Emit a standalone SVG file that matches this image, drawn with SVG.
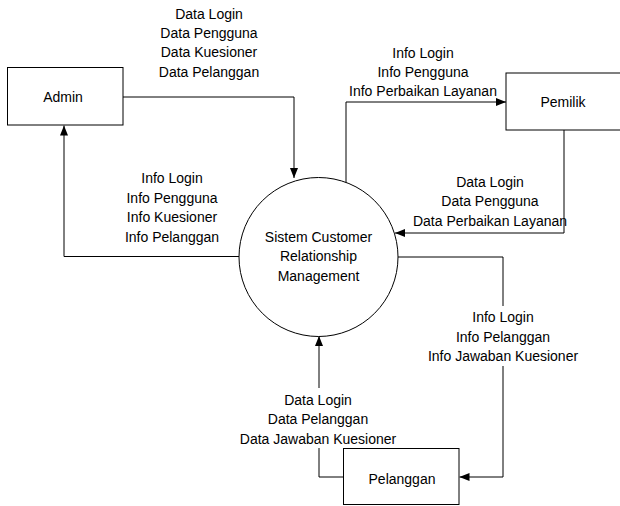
<svg xmlns="http://www.w3.org/2000/svg" width="620" height="506" viewBox="0 0 620 506">
<style>
  .box { fill: #ffffff; stroke: #000000; stroke-width: 1; }
  .conn { fill: none; stroke: #000000; stroke-width: 1; }
  text { font-family: "Liberation Sans", Arial, sans-serif; font-size: 14px; fill: #000000; text-anchor: middle; }
</style>
<defs>
  <marker id="arrow" viewBox="0 0 10 8" refX="10" refY="4" markerWidth="10" markerHeight="8" markerUnits="userSpaceOnUse" orient="auto">
    <path d="M0,0 L10,4 L0,8 z" fill="#000000"/>
  </marker>
</defs>
<rect width="620" height="506" fill="#ffffff"/>

<g id="connectors">
  <path class="conn" d="M123,97 H294 V178" marker-end="url(#arrow)"/>
  <path class="conn" d="M239,256.5 H64 V125.5" marker-end="url(#arrow)"/>
  <path class="conn" d="M346,183 V102 H506" marker-end="url(#arrow)"/>
  <path class="conn" d="M564,130 V233 H395" marker-end="url(#arrow)"/>
  <path class="conn" d="M398,257 H503 V306 M503,366 V477 H459.5" marker-end="url(#arrow)"/>
  <path class="conn" d="M343,477 H319 V448 M319,388 V336" marker-end="url(#arrow)"/>
</g>

<g id="labels">
  <text x="209" y="19">Data Login</text>
  <text x="209" y="38">Data Pengguna</text>
  <text x="209" y="57">Data Kuesioner</text>
  <text x="209" y="77">Data Pelanggan</text>

  <text x="172" y="183">Info Login</text>
  <text x="172" y="203">Info Pengguna</text>
  <text x="172" y="222">Info Kuesioner</text>
  <text x="172" y="242">Info Pelanggan</text>

  <text x="423" y="58">Info Login</text>
  <text x="423" y="77">Info Pengguna</text>
  <text x="423" y="96">Info Perbaikan Layanan</text>

  <text x="490" y="187">Data Login</text>
  <text x="490" y="206">Data Pengguna</text>
  <text x="490" y="226">Data Perbaikan Layanan</text>

  <text x="503" y="322">Info Login</text>
  <text x="503" y="342">Info Pelanggan</text>
  <text x="503" y="361">Info Jawaban Kuesioner</text>

  <text x="318" y="405">Data Login</text>
  <text x="318" y="424">Data Pelanggan</text>
  <text x="318" y="444">Data Jawaban Kuesioner</text>
</g>

<g id="admin">
  <rect class="box" x="7.5" y="67.5" width="115.5" height="57.5"/>
  <text x="63" y="102">Admin</text>
</g>

<g id="pemilik">
  <rect class="box" x="506" y="73" width="118" height="57"/>
  <text x="563" y="107">Pemilik</text>
</g>

<g id="pelanggan">
  <rect class="box" x="343.5" y="448.5" width="115.5" height="56"/>
  <text x="402" y="484">Pelanggan</text>
</g>

<g id="sistem">
  <circle class="box" cx="318.5" cy="257" r="79.5"/>
  <text x="318.5" y="242">Sistem Customer</text>
  <text x="318.5" y="261">Relationship</text>
  <text x="318.5" y="281">Management</text>
</g>
</svg>
